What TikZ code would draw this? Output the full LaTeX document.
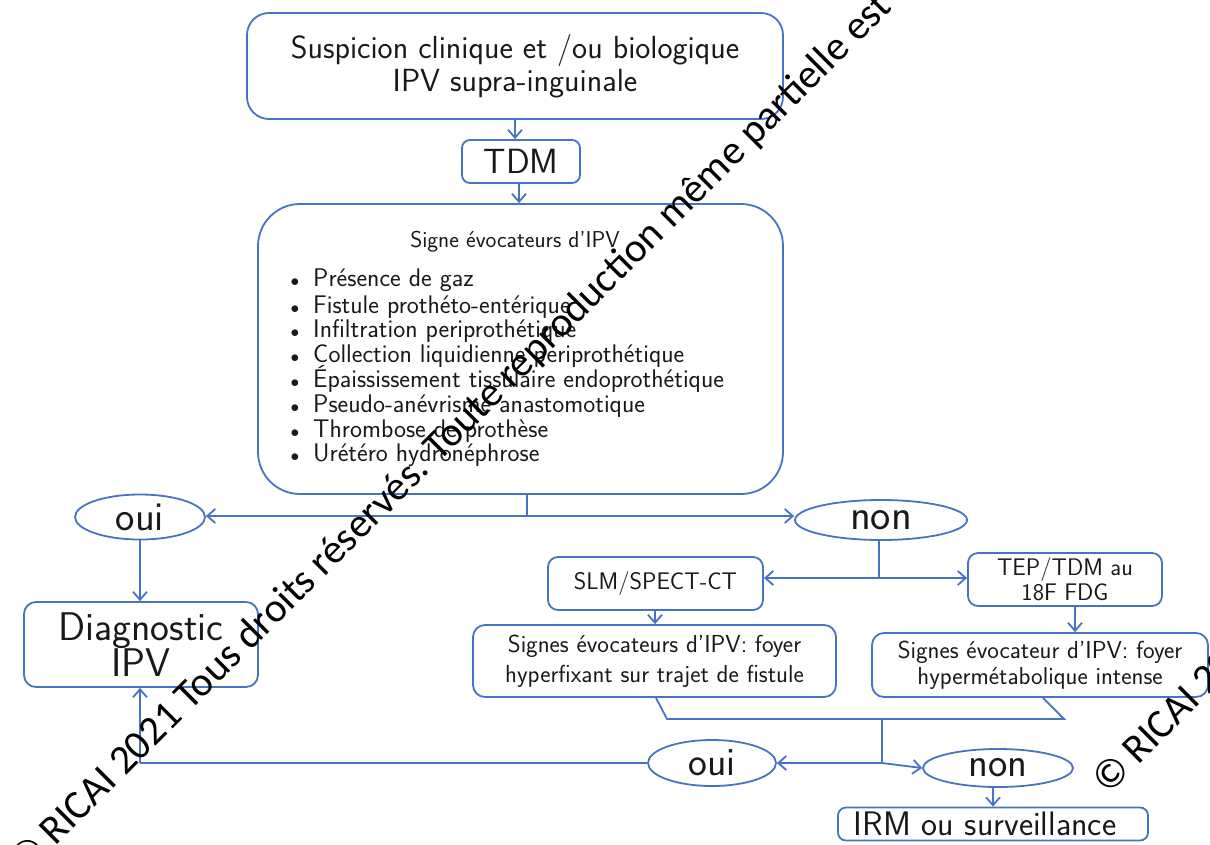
\documentclass[tikz,border=0pt]{standalone}
\usepackage{fontspec}
\newfontfamily\wmfont{Carlito}
\usetikzlibrary{shapes.geometric,arrows.meta}
\definecolor{lineblue}{RGB}{72,114,196}
\definecolor{txt}{RGB}{25,25,25}
\begin{document}
\begin{tikzpicture}[x=1pt,y=-1pt,
  every node/.style={font=\sffamily, text=txt},
  box/.style={draw=lineblue, line width=1.8pt, fill=white, align=center, inner sep=0pt, rounded corners=#1},
  box/.default=10pt,
  oval/.style={ellipse, draw=lineblue, line width=1.8pt, fill=white, inner sep=0pt},
  conn/.style={draw=lineblue, line width=1.8pt},
  arr/.style={conn, -{Straight Barb[length=8pt, width=14pt, line width=1.8pt]}},
  listitem/.style={anchor=base west, inner sep=0pt, font=\sffamily\fontsize{25.5}{25.5}\selectfont},
  wmark/.style={rotate=45, anchor=base west, inner sep=0pt, font=\wmfont\fontsize{41}{41}\selectfont, text=black},
]
\useasboundingbox (0,0) rectangle (1210,844);

% boxes
\node[box=22pt, minimum width=536pt, minimum height=106pt, font=\sffamily\fontsize{32}{33}\selectfont] (top) at (515,66) {Suspicion clinique et /ou biologique\\IPV supra-inguinale};
\node[box=8pt, minimum width=118pt, minimum height=43pt, font=\sffamily\fontsize{35}{35}\selectfont] (tdm) at (521,161.5) {TDM};
\node[box=42pt, minimum width=525pt, minimum height=290pt] (signs) at (520.5,349) {};
\node[font=\sffamily\fontsize{23}{23}\selectfont] (title) at (515,242) {Signe évocateurs d'IPV};
\newcommand{\bul}{\makebox[0pt][r]{{\fontsize{17}{17}\selectfont$\bullet$}\hspace{14pt}}}
\node[listitem] (li1) at (313,286) {\bul Présence de gaz};
\node[listitem] (li2) at (313,313) {\bul Fistule prothéto-entérique};
\node[listitem] (li3) at (313,337) {\bul Infiltration periprothétique};
\node[listitem] (li4) at (313,362) {\bul Collection liquidienne periprothétique};
\node[listitem] (li5) at (313,387) {\bul Épaississement tissulaire endoprothétique};
\node[listitem] (li6) at (313,412) {\bul Pseudo-anévrisme anastomotique};
\node[listitem] (li7) at (313,437) {\bul Thrombose de prothèse};
\node[listitem] (li8) at (313,461) {\bul Urétéro hydronéphrose};

\node[oval, minimum width=130pt, minimum height=45pt, font=\sffamily\fontsize{41}{41}\selectfont] (oui1) at (140,517) {oui};
\node[oval, minimum width=172pt, minimum height=40pt, font=\sffamily\fontsize{43}{43}\selectfont] (non1) at (881,520) {non};
\node[box=12pt, minimum width=234pt, minimum height=85pt, font=\sffamily\fontsize{40}{36}\selectfont] (diag) at (141,644.5) {Diagnostic\\IPV};
\node[box=10pt, minimum width=215pt, minimum height=53pt, font=\sffamily\fontsize{24}{25}\selectfont] (slm) at (655.5,583.5) {SLM/SPECT-CT};
\node[box=10pt, minimum width=194pt, minimum height=53pt, font=\sffamily\fontsize{24}{25}\selectfont] (tep) at (1065,579.5) {TEP/TDM au\\18F FDG};
\node[box=12pt, minimum width=363pt, minimum height=72pt, font=\sffamily\fontsize{24.6}{30}\selectfont] (sig1) at (654.5,661) {Signes évocateurs d'IPV: foyer\\hyperfixant sur trajet de fistule};
\node[box=12pt, minimum width=336pt, minimum height=64pt, font=\sffamily\fontsize{24.6}{26}\selectfont] (sig2) at (1040,665) {Signes évocateur d'IPV: foyer\\hypermétabolique intense};
\node[oval, minimum width=128pt, minimum height=46pt, font=\sffamily\fontsize{40}{40}\selectfont] (oui2) at (712,763) {oui};
\node[oval, minimum width=150pt, minimum height=38pt, font=\sffamily\fontsize{41}{41}\selectfont] (non2) at (998,768) {non};
\node[box=8pt, minimum width=310pt, minimum height=33pt, font=\sffamily\fontsize{34}{34}\selectfont] (irm) at (993,824) {IRM ou surveillance\hspace*{16pt}};

% junction coordinates
\coordinate (j1) at (527,516);
\coordinate (j2) at (879,578);
\coordinate (b1) at (667,719);
\coordinate (b2) at (1064,719);
\coordinate (j3) at (882,719);
\coordinate (j4) at (882,763);
\coordinate (c1) at (140,763);

% connectors
\draw[arr] (top.south -| 515,0) -- (tdm.north -| 515,0);
\draw[arr] (tdm.south -| 519,0) -- (signs.north -| 519,0);
\draw[conn] (signs.south -| j1) -- (j1);
\draw[arr] (j1) -- (oui1.east |- j1);
\draw[arr] (j1) -- (non1.west |- j1);
\draw[arr] (oui1.south) -- (diag.north -| oui1.south);
\draw[conn] (non1.south -| j2) -- (j2);
\draw[arr] (j2) -- (slm.east |- j2);
\draw[arr] (j2) -- (tep.west |- j2);
\draw[arr] (slm.south -| 655,0) -- (sig1.north -| 655,0);
\draw[arr] (tep.south -| 1075,0) -- (sig2.north -| 1075,0);
\draw[conn] (sig1.south -| 656,0) -- (b1) -- (b2) -- (sig2.south -| 1043,0);
\draw[conn] (j3) -- (j4);
\draw[arr] (j4) -- (oui2.east);
\draw[arr] (j4) -- (non2.west);
\draw[conn] (oui2.west) -- (c1);
\draw[arr] (c1) -- (diag.south -| c1);
\draw[arr] (non2.south -| 993,0) -- (irm.north -| 993,0);

% watermark
\begin{scope}
\clip (0,0) rectangle (1210,844);
\node[wmark] (wm1) at (25,877) {© RICAI 2021 Tous droits réservés. Toute reproduction même partielle est};
\node[wmark] (wm2) at (1108,796) {© RICAI 2021};
\end{scope}
\end{tikzpicture}
\end{document}
